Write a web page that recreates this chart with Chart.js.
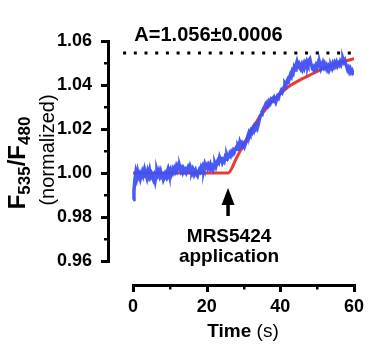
<!DOCTYPE html>
<html><head><meta charset="utf-8">
<script src="https://cdn.jsdelivr.net/npm/chart.js@4.4.1/dist/chart.umd.min.js"></script>
<style>html,body{margin:0;padding:0;background:#fff}#wrap{width:371px;height:352px}</style>
</head><body><div id="wrap"><canvas id="c" width="371" height="352"></canvas></div>
<script>
// ---- data ----
const timeSec = [0,0.25,0.5,0.75,1,1.25,1.5,1.75,2,2.25,2.5,2.75,3,3.25,3.5,3.75,4,4.25,4.5,4.75,5,5.25,5.5,5.75,6,6.25,6.5,6.75,7,7.25,7.5,7.75,8,8.25,8.5,8.75,9,9.25,9.5,9.75,10,10.25,10.5,10.75,11,11.25,11.5,11.75,12,12.25,12.5,12.75,13,13.25,13.5,13.75,14,14.25,14.5,14.75,15,15.25,15.5,15.75,16,16.25,16.5,16.75,17,17.25,17.5,17.75,18,18.25,18.5,18.75,19,19.25,19.5,19.75,20,20.25,20.5,20.75,21,21.25,21.5,21.75,22,22.25,22.5,22.75,23,23.25,23.5,23.75,24,24.25,24.5,24.75,25,25.25,25.5,25.75,26,26.25,26.5,26.75,27,27.25,27.5,27.75,28,28.25,28.5,28.75,29,29.25,29.5,29.75,30,30.25,30.5,30.75,31,31.25,31.5,31.75,32,32.25,32.5,32.75,33,33.25,33.5,33.75,34,34.25,34.5,34.75,35,35.25,35.5,35.75,36,36.25,36.5,36.75,37,37.25,37.5,37.75,38,38.25,38.5,38.75,39,39.25,39.5,39.75,40,40.25,40.5,40.75,41,41.25,41.5,41.75,42,42.25,42.5,42.75,43,43.25,43.5,43.75,44,44.25,44.5,44.75,45,45.25,45.5,45.75,46,46.25,46.5,46.75,47,47.25,47.5,47.75,48,48.25,48.5,48.75,49,49.25,49.5,49.75,50,50.25,50.5,50.75,51,51.25,51.5,51.75,52,52.25,52.5,52.75,53,53.25,53.5,53.75,54,54.25,54.5,54.75,55,55.25,55.5,55.75,56,56.25,56.5,56.75,57,57.25,57.5,57.75,58,58.25,58.5,58.75,59,59.25,59.5,59.75,60];
const ratioMeasured = [0.988,0.992,0.997,1.000,0.998,1.0005,0.9985,0.9995,0.9975,0.999,1.0005,0.999,1.0008,0.9985,0.9995,0.998,1.0005,0.999,1.001,0.9985,0.9995,0.998,0.997,0.9985,0.9965,0.999,1.001,0.9995,1.0008,0.999,1.0005,0.9985,0.999,0.997,0.998,0.9995,0.9985,1.0005,1.0018,1.000,1.001,0.9985,0.9995,1.0015,1.0005,1.002,1.001,1.0028,1.0015,1.003,1.0018,1.0025,1.001,1.002,1.0005,1.0018,1.0008,1.0015,1.0002,1.0012,1.0025,1.0015,1.003,1.0018,1.0008,1.002,1.0012,0.9998,1.001,0.9995,0.9988,1.0005,1.0015,1.0008,1.0025,1.0015,1.003,1.002,1.004,1.0028,1.0035,1.0022,1.0035,1.0025,1.0038,1.0022,1.003,1.0018,1.0032,1.0042,1.003,1.0045,1.0055,1.0048,1.007,1.0058,1.0062,1.0048,1.0058,1.0052,1.007,1.0062,1.008,1.0068,1.0075,1.0088,1.008,1.0095,1.0088,1.0102,1.0095,1.0108,1.0115,1.0108,1.0125,1.0118,1.014,1.0128,1.0135,1.0122,1.013,1.012,1.0132,1.0142,1.0155,1.0172,1.0185,1.0178,1.0192,1.0185,1.020,1.0192,1.021,1.0202,1.0215,1.0205,1.022,1.024,1.0258,1.0265,1.0278,1.0285,1.0295,1.0302,1.0312,1.0305,1.0318,1.031,1.0325,1.0318,1.0332,1.0325,1.034,1.0345,1.0332,1.0322,1.0335,1.0348,1.0342,1.0358,1.0365,1.0375,1.0368,1.0382,1.039,1.0405,1.0398,1.0415,1.0425,1.0418,1.0435,1.0448,1.044,1.0462,1.0455,1.0478,1.0468,1.049,1.0505,1.0488,1.0495,1.0478,1.0472,1.0488,1.0475,1.0492,1.048,1.0498,1.0488,1.0505,1.0495,1.0512,1.0518,1.0498,1.0488,1.0472,1.0468,1.0482,1.0475,1.049,1.0482,1.0498,1.0488,1.0495,1.0478,1.0492,1.0502,1.0485,1.0495,1.048,1.0488,1.0472,1.0482,1.0468,1.0478,1.0488,1.0478,1.0495,1.0485,1.050,1.049,1.0502,1.0488,1.0498,1.0492,1.0505,1.0495,1.051,1.0518,1.0505,1.0512,1.0495,1.0485,1.047,1.0478,1.0462,1.0472,1.0458,1.0465,1.0455,1.046];
const fitTime  = [0,25.8,28,30,32,34,36,38,40,42,45,48,51,54,57,60];
const fitRatio = [1.000,1.000,1.0065,1.013,1.019,1.0245,1.029,1.033,1.036,1.039,1.042,1.0445,1.047,1.049,1.0505,1.052];
const plateauTime = [-2.7, 59.5];
const plateauValue = 1.0545;
const plateauLabel = 'A=1.056±0.0006';
const stimulusTime = 25.8;
const stimulusLabel = ['MRS5424', 'application'];
const xTicks = [0, 20, 40, 60];
const xMinorTicks = [10, 30, 50];
const yTicks = [0.96, 0.98, 1.00, 1.02, 1.04, 1.06];
const yMinorTicks = [0.97, 0.99, 1.01, 1.03, 1.05];
const yTickLabels = ['0.96', '0.98', '1.00', '1.02', '1.04', '1.06'];
const xTitle = [['Time', 'bold'], [' (s)', 'normal']];

const FONT = '"Liberation Sans", Arial, Helvetica, sans-serif';
const BLUE = 'rgba(62,80,245,0.95)';
const RED = '#ea3b32';

function pts(xs, ys) { return xs.map((x, i) => ({x: x, y: ys[i]})); }

const axesPlugin = {
  id: 'axesPlugin',
  afterDraw(chart) {
    const ctx = chart.ctx, xs = chart.scales.x, ys = chart.scales.y;
    const ax = Math.round(chart.chartArea.left), ay = Math.round(chart.chartArea.bottom);
    ctx.save();
    ctx.setLineDash([]);
    ctx.fillStyle = '#000';
    // y axis (solid rects)
    const yTop = Math.round(ys.getPixelForValue(yTicks[yTicks.length-1]));
    const yBot = Math.round(ys.getPixelForValue(yTicks[0]));
    ctx.fillRect(ax - 1, yTop - 1, 3, yBot - yTop + 3);
    yTicks.forEach(v => { const p = Math.round(ys.getPixelForValue(v)); ctx.fillRect(ax - 7, p - 1, 7, 3); });
    yMinorTicks.forEach(v => { const p = Math.round(ys.getPixelForValue(v)); ctx.fillRect(ax - 4, p - 1, 4, 2.5); });
    // x axis
    const xL = Math.round(xs.getPixelForValue(xTicks[0]));
    const xR = Math.round(xs.getPixelForValue(xTicks[xTicks.length-1]));
    ctx.fillRect(xL - 1, ay - 1, xR - xL + 3, 3);
    xTicks.forEach(v => { const p = Math.round(xs.getPixelForValue(v)); ctx.fillRect(p - 1, ay, 3, 7); });
    xMinorTicks.forEach(v => { const p = Math.round(xs.getPixelForValue(v)); ctx.fillRect(p - 1, ay, 2.5, 4.5); });

    // x title (mixed weight)
    ctx.textBaseline = 'alphabetic';
    let total = 0;
    xTitle.forEach(s => { ctx.font = s[1] + ' 19px ' + FONT; total += ctx.measureText(s[0]).width; });
    let cx = 243 - total / 2;
    xTitle.forEach(s => { ctx.font = s[1] + ' 19px ' + FONT; ctx.textAlign = 'left'; ctx.fillText(s[0], cx, 337); cx += ctx.measureText(s[0]).width; });

    // y title (rotated)
    ctx.save();
    ctx.translate(25, 163);
    ctx.rotate(-Math.PI / 2);
    const segs = [['F', 24, 0], ['535', 17, 5], ['/', 24, 0], ['F', 24, 0], ['480', 17, 5]];
    let tw = 0;
    segs.forEach(s => { ctx.font = 'bold ' + s[1] + 'px ' + FONT; tw += ctx.measureText(s[0]).width; });
    let sx = -tw / 2;
    segs.forEach(s => { ctx.font = 'bold ' + s[1] + 'px ' + FONT; ctx.textAlign = 'left'; ctx.fillText(s[0], sx, s[2]); sx += ctx.measureText(s[0]).width; });
    ctx.restore();
    ctx.save();
    ctx.translate(54, 150);
    ctx.rotate(-Math.PI / 2);
    ctx.font = 'normal 20px ' + FONT; ctx.textAlign = 'center';
    ctx.fillText('(normalized)', 0, 0);
    ctx.restore();

    // plateau label
    ctx.font = 'bold 20px ' + FONT; ctx.textAlign = 'center';
    ctx.fillText(plateauLabel, 208.5, 41);

    // stimulus arrow + label
    const axp = xs.getPixelForValue(stimulusTime);
    ctx.fillRect(axp - 1.75, 201, 3.5, 15);
    ctx.beginPath(); ctx.moveTo(axp, 188); ctx.lineTo(axp - 6.5, 205); ctx.lineTo(axp + 6.5, 205); ctx.closePath(); ctx.fill();
    ctx.font = 'bold 19px ' + FONT; ctx.textAlign = 'center';
    ctx.fillText(stimulusLabel[0], axp + 1, 241.5);
    ctx.fillText(stimulusLabel[1], axp + 1, 261.5);
    ctx.restore();
  }
};

new Chart(document.getElementById('c'), {
  type: 'line',
  data: {
    datasets: [
      { label: 'fit', data: pts(fitTime, fitRatio), borderColor: RED, borderWidth: 3, pointRadius: 0, cubicInterpolationMode: 'monotone', fill: false, order: 2 },
      { label: 'measured', data: pts(timeSec, ratioMeasured), borderColor: BLUE, borderWidth: 3.5, pointRadius: 0, tension: 0, fill: false, order: 1 },
      { label: 'plateau', data: pts(plateauTime, [plateauValue, plateauValue]), borderColor: '#000', borderWidth: 3, borderDash: [3, 7.7], pointRadius: 0, fill: false, order: 0 }
    ]
  },
  options: {
    responsive: false, animation: false, devicePixelRatio: 1,
    layout: { padding: { left: 0, right: 17, top: 41, bottom: 0 } },
    plugins: { legend: { display: false }, tooltip: { enabled: false } },
    scales: {
      x: {
        type: 'linear', min: -6.8, max: 60,
        grid: { display: false }, border: { display: false },
        afterBuildTicks: s => { s.ticks = xTicks.map(v => ({ value: v })); },
        afterFit: s => { s.height = 67; },
        ticks: { color: '#000', font: { family: FONT, size: 18, weight: 'bold' }, padding: 3, maxRotation: 0, autoSkip: false }
      },
      y: {
        type: 'linear', min: 0.94909, max: 1.06,
        grid: { display: false }, border: { display: false },
        afterBuildTicks: s => { s.ticks = yTicks.map(v => ({ value: v })); },
        afterFit: s => { s.width = 108; },
        ticks: { color: '#000', font: { family: FONT, size: 18, weight: 'bold' }, padding: 8, autoSkip: false,
                 callback: (v) => { const i = yTicks.findIndex(t => Math.abs(t - v) < 1e-6); return i >= 0 ? yTickLabels[i] : ''; } }
      }
    }
  },
  plugins: [axesPlugin]
});
</script></body></html>
